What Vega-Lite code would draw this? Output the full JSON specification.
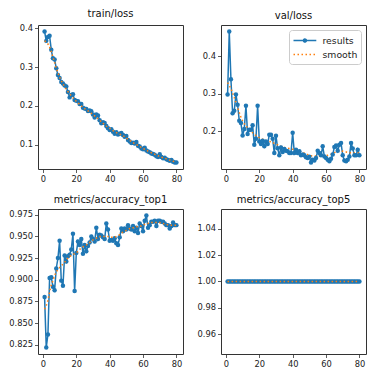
{
"$schema":"https://vega.github.io/schema/vega-lite/v6.json",
"background":"white",
"padding":{"left":8,"top":8,"right":5,"bottom":5},
"config":{"font":"DejaVu Sans","view":{"stroke":"#333","strokeWidth":1},
"axis":{"domain":false,"grid":false,"ticks":true,"tickColor":"#333","tickSize":3.5,"tickWidth":0.8,"labelFontSize":8.3,"labelColor":"#222","labelPadding":2,"labelOverlap":false,"tickCount":12,"title":null},
"title":{"fontSize":10,"fontWeight":"normal","color":"#111","offset":4},
"legend":{"fillColor":"white","strokeColor":"#ccc","cornerRadius":3,"padding":3.5,"labelFontSize":9.3,"labelColor":"#222","symbolStrokeWidth":1.5,"symbolSize":144,"labelOffset":16,"rowPadding":1,"offset":5}},
"datasets":{
"train":[
{"epoch":1,"results":0.392,"smooth":0.368},{"epoch":2,"results":0.368,"smooth":0.365},{"epoch":3,"results":0.378,"smooth":0.360},{"epoch":4,"results":0.381,"smooth":0.352},{"epoch":5,"results":0.345,"smooth":0.340},{"epoch":6,"results":0.323,"smooth":0.326},{"epoch":7,"results":0.320,"smooth":0.312},{"epoch":8,"results":0.297,"smooth":0.298},{"epoch":9,"results":0.280,"smooth":0.285},{"epoch":10,"results":0.272,"smooth":0.274},
{"epoch":11,"results":0.262,"smooth":0.265},{"epoch":12,"results":0.258,"smooth":0.257},{"epoch":13,"results":0.253,"smooth":0.250},{"epoch":14,"results":0.250,"smooth":0.243},{"epoch":15,"results":0.236,"smooth":0.237},{"epoch":16,"results":0.222,"smooth":0.231},{"epoch":17,"results":0.228,"smooth":0.226},{"epoch":18,"results":0.230,"smooth":0.221},{"epoch":19,"results":0.215,"smooth":0.216},{"epoch":20,"results":0.213,"smooth":0.212},
{"epoch":21,"results":0.212,"smooth":0.208},{"epoch":22,"results":0.205,"smooth":0.204},{"epoch":23,"results":0.205,"smooth":0.200},{"epoch":24,"results":0.195,"smooth":0.196},{"epoch":25,"results":0.193,"smooth":0.193},{"epoch":26,"results":0.192,"smooth":0.190},{"epoch":27,"results":0.187,"smooth":0.187},{"epoch":28,"results":0.188,"smooth":0.184},{"epoch":29,"results":0.186,"smooth":0.181},{"epoch":30,"results":0.178,"smooth":0.177},
{"epoch":31,"results":0.170,"smooth":0.174},{"epoch":32,"results":0.178,"smooth":0.171},{"epoch":33,"results":0.175,"smooth":0.167},{"epoch":34,"results":0.163,"smooth":0.163},{"epoch":35,"results":0.155,"smooth":0.159},{"epoch":36,"results":0.158,"smooth":0.155},{"epoch":37,"results":0.156,"smooth":0.152},{"epoch":38,"results":0.148,"smooth":0.148},{"epoch":39,"results":0.142,"smooth":0.145},{"epoch":40,"results":0.138,"smooth":0.142},
{"epoch":41,"results":0.140,"smooth":0.139},{"epoch":42,"results":0.133,"smooth":0.136},{"epoch":43,"results":0.128,"smooth":0.133},{"epoch":44,"results":0.132,"smooth":0.131},{"epoch":45,"results":0.126,"smooth":0.129},{"epoch":46,"results":0.128,"smooth":0.127},{"epoch":47,"results":0.130,"smooth":0.125},{"epoch":48,"results":0.125,"smooth":0.123},{"epoch":49,"results":0.120,"smooth":0.120},{"epoch":50,"results":0.122,"smooth":0.117},
{"epoch":51,"results":0.112,"smooth":0.114},{"epoch":52,"results":0.108,"smooth":0.111},{"epoch":53,"results":0.104,"smooth":0.108},{"epoch":54,"results":0.105,"smooth":0.105},{"epoch":55,"results":0.103,"smooth":0.103},{"epoch":56,"results":0.107,"smooth":0.100},{"epoch":57,"results":0.097,"smooth":0.098},{"epoch":58,"results":0.095,"smooth":0.095},{"epoch":59,"results":0.090,"smooth":0.093},{"epoch":60,"results":0.088,"smooth":0.090},
{"epoch":61,"results":0.092,"smooth":0.088},{"epoch":62,"results":0.085,"smooth":0.086},{"epoch":63,"results":0.082,"smooth":0.083},{"epoch":64,"results":0.080,"smooth":0.081},{"epoch":65,"results":0.077,"smooth":0.079},{"epoch":66,"results":0.076,"smooth":0.077},{"epoch":67,"results":0.074,"smooth":0.075},{"epoch":68,"results":0.070,"smooth":0.073},{"epoch":69,"results":0.068,"smooth":0.071},{"epoch":70,"results":0.075,"smooth":0.070},
{"epoch":71,"results":0.068,"smooth":0.068},{"epoch":72,"results":0.065,"smooth":0.066},{"epoch":73,"results":0.066,"smooth":0.065},{"epoch":74,"results":0.062,"smooth":0.063},{"epoch":75,"results":0.060,"smooth":0.061},{"epoch":76,"results":0.058,"smooth":0.060},{"epoch":77,"results":0.060,"smooth":0.058},{"epoch":78,"results":0.056,"smooth":0.057},{"epoch":79,"results":0.054,"smooth":0.056},{"epoch":80,"results":0.054,"smooth":0.055}],
"val":[
{"epoch":1,"results":0.298,"smooth":0.330},{"epoch":2,"results":0.466,"smooth":0.322},{"epoch":3,"results":0.339,"smooth":0.314},{"epoch":4,"results":0.248,"smooth":0.302},{"epoch":5,"results":0.255,"smooth":0.290},{"epoch":6,"results":0.298,"smooth":0.277},{"epoch":7,"results":0.271,"smooth":0.264},{"epoch":8,"results":0.228,"smooth":0.250},{"epoch":9,"results":0.222,"smooth":0.238},{"epoch":10,"results":0.189,"smooth":0.228},
{"epoch":11,"results":0.206,"smooth":0.220},{"epoch":12,"results":0.268,"smooth":0.214},{"epoch":13,"results":0.193,"smooth":0.209},{"epoch":14,"results":0.204,"smooth":0.204},{"epoch":15,"results":0.204,"smooth":0.200},{"epoch":16,"results":0.216,"smooth":0.196},{"epoch":17,"results":0.164,"smooth":0.192},{"epoch":18,"results":0.180,"smooth":0.189},{"epoch":19,"results":0.268,"smooth":0.186},{"epoch":20,"results":0.173,"smooth":0.183},
{"epoch":21,"results":0.166,"smooth":0.181},{"epoch":22,"results":0.175,"smooth":0.179},{"epoch":23,"results":0.160,"smooth":0.177},{"epoch":24,"results":0.173,"smooth":0.175},{"epoch":25,"results":0.166,"smooth":0.174},{"epoch":26,"results":0.191,"smooth":0.173},{"epoch":27,"results":0.191,"smooth":0.172},{"epoch":28,"results":0.180,"smooth":0.170},{"epoch":29,"results":0.142,"smooth":0.168},{"epoch":30,"results":0.188,"smooth":0.166},
{"epoch":31,"results":0.155,"smooth":0.164},{"epoch":32,"results":0.136,"smooth":0.162},{"epoch":33,"results":0.157,"smooth":0.160},{"epoch":34,"results":0.145,"smooth":0.158},{"epoch":35,"results":0.153,"smooth":0.157},{"epoch":36,"results":0.148,"smooth":0.156},{"epoch":37,"results":0.147,"smooth":0.155},{"epoch":38,"results":0.142,"smooth":0.154},{"epoch":39,"results":0.142,"smooth":0.153},{"epoch":40,"results":0.196,"smooth":0.152},
{"epoch":41,"results":0.142,"smooth":0.151},{"epoch":42,"results":0.151,"smooth":0.150},{"epoch":43,"results":0.142,"smooth":0.149},{"epoch":44,"results":0.147,"smooth":0.148},{"epoch":45,"results":0.136,"smooth":0.146},{"epoch":46,"results":0.138,"smooth":0.144},{"epoch":47,"results":0.136,"smooth":0.142},{"epoch":48,"results":0.131,"smooth":0.140},{"epoch":49,"results":0.129,"smooth":0.138},{"epoch":50,"results":0.132,"smooth":0.136},
{"epoch":51,"results":0.117,"smooth":0.135},{"epoch":52,"results":0.124,"smooth":0.134},{"epoch":53,"results":0.122,"smooth":0.134},{"epoch":54,"results":0.129,"smooth":0.134},{"epoch":55,"results":0.148,"smooth":0.134},{"epoch":56,"results":0.142,"smooth":0.134},{"epoch":57,"results":0.136,"smooth":0.134},{"epoch":58,"results":0.160,"smooth":0.135},{"epoch":59,"results":0.133,"smooth":0.135},{"epoch":60,"results":0.129,"smooth":0.135},
{"epoch":61,"results":0.124,"smooth":0.136},{"epoch":62,"results":0.120,"smooth":0.137},{"epoch":63,"results":0.127,"smooth":0.139},{"epoch":64,"results":0.138,"smooth":0.141},{"epoch":65,"results":0.158,"smooth":0.143},{"epoch":66,"results":0.162,"smooth":0.145},{"epoch":67,"results":0.148,"smooth":0.147},{"epoch":68,"results":0.164,"smooth":0.148},{"epoch":69,"results":0.169,"smooth":0.148},{"epoch":70,"results":0.136,"smooth":0.147},
{"epoch":71,"results":0.122,"smooth":0.146},{"epoch":72,"results":0.120,"smooth":0.145},{"epoch":73,"results":0.124,"smooth":0.144},{"epoch":74,"results":0.133,"smooth":0.143},{"epoch":75,"results":0.169,"smooth":0.143},{"epoch":76,"results":0.154,"smooth":0.142},{"epoch":77,"results":0.136,"smooth":0.142},{"epoch":78,"results":0.136,"smooth":0.142},{"epoch":79,"results":0.151,"smooth":0.142},{"epoch":80,"results":0.136,"smooth":0.142}],
"top1":[
{"epoch":1,"results":0.880,"smooth":0.866},{"epoch":2,"results":0.822,"smooth":0.870},{"epoch":3,"results":0.837,"smooth":0.876},{"epoch":4,"results":0.902,"smooth":0.886},{"epoch":5,"results":0.903,"smooth":0.894},{"epoch":6,"results":0.892,"smooth":0.899},{"epoch":7,"results":0.888,"smooth":0.905},{"epoch":8,"results":0.913,"smooth":0.909},{"epoch":9,"results":0.925,"smooth":0.912},{"epoch":10,"results":0.945,"smooth":0.914},
{"epoch":11,"results":0.899,"smooth":0.916},{"epoch":12,"results":0.893,"smooth":0.918},{"epoch":13,"results":0.928,"smooth":0.920},{"epoch":14,"results":0.921,"smooth":0.923},{"epoch":15,"results":0.927,"smooth":0.925},{"epoch":16,"results":0.929,"smooth":0.927},{"epoch":17,"results":0.935,"smooth":0.928},{"epoch":18,"results":0.953,"smooth":0.929},{"epoch":19,"results":0.887,"smooth":0.930},{"epoch":20,"results":0.931,"smooth":0.931},
{"epoch":21,"results":0.944,"smooth":0.933},{"epoch":22,"results":0.940,"smooth":0.935},{"epoch":23,"results":0.947,"smooth":0.937},{"epoch":24,"results":0.930,"smooth":0.938},{"epoch":25,"results":0.940,"smooth":0.939},{"epoch":26,"results":0.933,"smooth":0.940},{"epoch":27,"results":0.939,"smooth":0.942},{"epoch":28,"results":0.943,"smooth":0.943},{"epoch":29,"results":0.950,"smooth":0.944},{"epoch":30,"results":0.947,"smooth":0.946},
{"epoch":31,"results":0.944,"smooth":0.947},{"epoch":32,"results":0.960,"smooth":0.948},{"epoch":33,"results":0.947,"smooth":0.949},{"epoch":34,"results":0.952,"smooth":0.950},{"epoch":35,"results":0.951,"smooth":0.950},{"epoch":36,"results":0.949,"smooth":0.950},{"epoch":37,"results":0.947,"smooth":0.950},{"epoch":38,"results":0.965,"smooth":0.950},{"epoch":39,"results":0.958,"smooth":0.950},{"epoch":40,"results":0.945,"smooth":0.949},
{"epoch":41,"results":0.946,"smooth":0.949},{"epoch":42,"results":0.945,"smooth":0.949},{"epoch":43,"results":0.948,"smooth":0.949},{"epoch":44,"results":0.942,"smooth":0.950},{"epoch":45,"results":0.940,"smooth":0.951},{"epoch":46,"results":0.949,"smooth":0.952},{"epoch":47,"results":0.959,"smooth":0.954},{"epoch":48,"results":0.956,"smooth":0.955},{"epoch":49,"results":0.959,"smooth":0.956},{"epoch":50,"results":0.958,"smooth":0.957},
{"epoch":51,"results":0.963,"smooth":0.958},{"epoch":52,"results":0.959,"smooth":0.959},{"epoch":53,"results":0.958,"smooth":0.959},{"epoch":54,"results":0.962,"smooth":0.960},{"epoch":55,"results":0.956,"smooth":0.960},{"epoch":56,"results":0.960,"smooth":0.961},{"epoch":57,"results":0.954,"smooth":0.961},{"epoch":58,"results":0.965,"smooth":0.962},{"epoch":59,"results":0.962,"smooth":0.962},{"epoch":60,"results":0.956,"smooth":0.963},
{"epoch":61,"results":0.968,"smooth":0.964},{"epoch":62,"results":0.974,"smooth":0.965},{"epoch":63,"results":0.960,"smooth":0.965},{"epoch":64,"results":0.963,"smooth":0.966},{"epoch":65,"results":0.967,"smooth":0.966},{"epoch":66,"results":0.967,"smooth":0.966},{"epoch":67,"results":0.968,"smooth":0.966},{"epoch":68,"results":0.962,"smooth":0.966},{"epoch":69,"results":0.968,"smooth":0.966},{"epoch":70,"results":0.968,"smooth":0.966},
{"epoch":71,"results":0.967,"smooth":0.965},{"epoch":72,"results":0.967,"smooth":0.965},{"epoch":73,"results":0.965,"smooth":0.964},{"epoch":74,"results":0.963,"smooth":0.964},{"epoch":75,"results":0.963,"smooth":0.963},{"epoch":76,"results":0.959,"smooth":0.963},{"epoch":77,"results":0.962,"smooth":0.963},{"epoch":78,"results":0.966,"smooth":0.963},{"epoch":79,"results":0.963,"smooth":0.963},{"epoch":80,"results":0.963,"smooth":0.963}],
"top5":[
{"epoch":1,"results":1,"smooth":1},{"epoch":2,"results":1,"smooth":1},{"epoch":3,"results":1,"smooth":1},{"epoch":4,"results":1,"smooth":1},{"epoch":5,"results":1,"smooth":1},{"epoch":6,"results":1,"smooth":1},{"epoch":7,"results":1,"smooth":1},{"epoch":8,"results":1,"smooth":1},{"epoch":9,"results":1,"smooth":1},{"epoch":10,"results":1,"smooth":1},
{"epoch":11,"results":1,"smooth":1},{"epoch":12,"results":1,"smooth":1},{"epoch":13,"results":1,"smooth":1},{"epoch":14,"results":1,"smooth":1},{"epoch":15,"results":1,"smooth":1},{"epoch":16,"results":1,"smooth":1},{"epoch":17,"results":1,"smooth":1},{"epoch":18,"results":1,"smooth":1},{"epoch":19,"results":1,"smooth":1},{"epoch":20,"results":1,"smooth":1},
{"epoch":21,"results":1,"smooth":1},{"epoch":22,"results":1,"smooth":1},{"epoch":23,"results":1,"smooth":1},{"epoch":24,"results":1,"smooth":1},{"epoch":25,"results":1,"smooth":1},{"epoch":26,"results":1,"smooth":1},{"epoch":27,"results":1,"smooth":1},{"epoch":28,"results":1,"smooth":1},{"epoch":29,"results":1,"smooth":1},{"epoch":30,"results":1,"smooth":1},
{"epoch":31,"results":1,"smooth":1},{"epoch":32,"results":1,"smooth":1},{"epoch":33,"results":1,"smooth":1},{"epoch":34,"results":1,"smooth":1},{"epoch":35,"results":1,"smooth":1},{"epoch":36,"results":1,"smooth":1},{"epoch":37,"results":1,"smooth":1},{"epoch":38,"results":1,"smooth":1},{"epoch":39,"results":1,"smooth":1},{"epoch":40,"results":1,"smooth":1},
{"epoch":41,"results":1,"smooth":1},{"epoch":42,"results":1,"smooth":1},{"epoch":43,"results":1,"smooth":1},{"epoch":44,"results":1,"smooth":1},{"epoch":45,"results":1,"smooth":1},{"epoch":46,"results":1,"smooth":1},{"epoch":47,"results":1,"smooth":1},{"epoch":48,"results":1,"smooth":1},{"epoch":49,"results":1,"smooth":1},{"epoch":50,"results":1,"smooth":1},
{"epoch":51,"results":1,"smooth":1},{"epoch":52,"results":1,"smooth":1},{"epoch":53,"results":1,"smooth":1},{"epoch":54,"results":1,"smooth":1},{"epoch":55,"results":1,"smooth":1},{"epoch":56,"results":1,"smooth":1},{"epoch":57,"results":1,"smooth":1},{"epoch":58,"results":1,"smooth":1},{"epoch":59,"results":1,"smooth":1},{"epoch":60,"results":1,"smooth":1},
{"epoch":61,"results":1,"smooth":1},{"epoch":62,"results":1,"smooth":1},{"epoch":63,"results":1,"smooth":1},{"epoch":64,"results":1,"smooth":1},{"epoch":65,"results":1,"smooth":1},{"epoch":66,"results":1,"smooth":1},{"epoch":67,"results":1,"smooth":1},{"epoch":68,"results":1,"smooth":1},{"epoch":69,"results":1,"smooth":1},{"epoch":70,"results":1,"smooth":1},
{"epoch":71,"results":1,"smooth":1},{"epoch":72,"results":1,"smooth":1},{"epoch":73,"results":1,"smooth":1},{"epoch":74,"results":1,"smooth":1},{"epoch":75,"results":1,"smooth":1},{"epoch":76,"results":1,"smooth":1},{"epoch":77,"results":1,"smooth":1},{"epoch":78,"results":1,"smooth":1},{"epoch":79,"results":1,"smooth":1},{"epoch":80,"results":1,"smooth":1}]
},
"columns":2,
"bounds":"flush",
"spacing":{"row":40,"column":38},
"resolve":{"scale":{"color":"independent","strokeDash":"independent"}},
"concat":[
{"title":"train/loss","width":145,"height":144,"data":{"name":"train"},
"encoding":{"x":{"field":"epoch","type":"quantitative","scale":{"domain":[-2.95,83.95],"nice":false,"zero":false},"axis":{"values":[0,20,40,60,80],"tickCount":12}}},
"layer":[
{"mark":{"type":"line","color":"#1f77b4","strokeWidth":1.5},"encoding":{"y":{"field":"results","type":"quantitative","scale":{"domain":[0.037,0.409],"nice":false,"zero":false},"axis":{"values":[0.1,0.2,0.3,0.4],"format":".1f","tickCount":12}}}},
{"mark":{"type":"point","filled":true,"color":"#1f77b4","size":20,"opacity":1},"encoding":{"y":{"field":"results","type":"quantitative"}}},
{"mark":{"type":"line","color":"#ff7f0e","strokeWidth":1.5,"strokeDash":[1.5,2.5]},"encoding":{"y":{"field":"smooth","type":"quantitative"}}}
]},
{"title":"val/loss","width":145,"height":144,"data":{"name":"val"},
"transform":[{"fold":["results","smooth"],"as":["series","value"]}],
"encoding":{"x":{"field":"epoch","type":"quantitative","scale":{"domain":[-2.95,83.95],"nice":false,"zero":false},"axis":{"values":[0,20,40,60,80],"tickCount":12}},
"y":{"field":"value","type":"quantitative","scale":{"domain":[0.0995,0.4835],"nice":false,"zero":false},"axis":{"values":[0.2,0.3,0.4],"format":".1f","tickCount":12}}},
"layer":[
{"mark":{"type":"line","strokeWidth":1.5},"encoding":{
"color":{"field":"series","type":"nominal","scale":{"domain":["results","smooth"],"range":["#1f77b4","#ff7f0e"]},"legend":{"title":null,"orient":"top-right","encode":{"symbols":{"update":{"shape":{"signal":"datum.value === 'results' ? 'M-1,0H2.8M0.65,0A0.25,0.25,0,1,1,1.15,0A0.25,0.25,0,1,1,0.65,0Z' : 'M-1,0H2.8'"},"fill":{"signal":"datum.value === 'results' ? '#1f77b4' : 'transparent'"}}}}}},
"strokeDash":{"field":"series","type":"nominal","scale":{"domain":["results","smooth"],"range":[[1,0],[1.5,2.5]]},"legend":{"title":null,"orient":"top-right"}},
"order":{"field":"series","sort":"ascending"}}},
{"transform":[{"filter":"datum.series == 'results'"}],"mark":{"type":"point","filled":true,"color":"#1f77b4","size":20,"opacity":1}}
]},
{"title":"metrics/accuracy_top1","width":145,"height":145,"data":{"name":"top1"},
"encoding":{"x":{"field":"epoch","type":"quantitative","scale":{"domain":[-2.95,83.95],"nice":false,"zero":false},"axis":{"values":[0,20,40,60,80],"tickCount":12}}},
"layer":[
{"mark":{"type":"line","color":"#1f77b4","strokeWidth":1.5},"encoding":{"y":{"field":"results","type":"quantitative","scale":{"domain":[0.8144,0.9816],"nice":false,"zero":false},"axis":{"values":[0.825,0.85,0.875,0.9,0.925,0.95,0.975],"format":".3f","tickCount":12}}}},
{"mark":{"type":"point","filled":true,"color":"#1f77b4","size":20,"opacity":1},"encoding":{"y":{"field":"results","type":"quantitative"}}},
{"mark":{"type":"line","color":"#ff7f0e","strokeWidth":1.5,"strokeDash":[1.5,2.5]},"encoding":{"y":{"field":"smooth","type":"quantitative"}}}
]},
{"title":"metrics/accuracy_top5","width":145,"height":145,"data":{"name":"top5"},
"encoding":{"x":{"field":"epoch","type":"quantitative","scale":{"domain":[-2.95,83.95],"nice":false,"zero":false},"axis":{"values":[0,20,40,60,80],"tickCount":12}}},
"layer":[
{"mark":{"type":"line","color":"#1f77b4","strokeWidth":1.5},"encoding":{"y":{"field":"results","type":"quantitative","scale":{"domain":[0.945,1.055],"nice":false,"zero":false},"axis":{"values":[0.96,0.98,1.0,1.02,1.04],"format":".2f","tickCount":12}}}},
{"mark":{"type":"point","filled":true,"color":"#1f77b4","size":20,"opacity":1},"encoding":{"y":{"field":"results","type":"quantitative"}}},
{"mark":{"type":"line","color":"#ff7f0e","strokeWidth":1.5,"strokeDash":[1.5,2.5]},"encoding":{"y":{"field":"smooth","type":"quantitative"}}}
]}
]
}
